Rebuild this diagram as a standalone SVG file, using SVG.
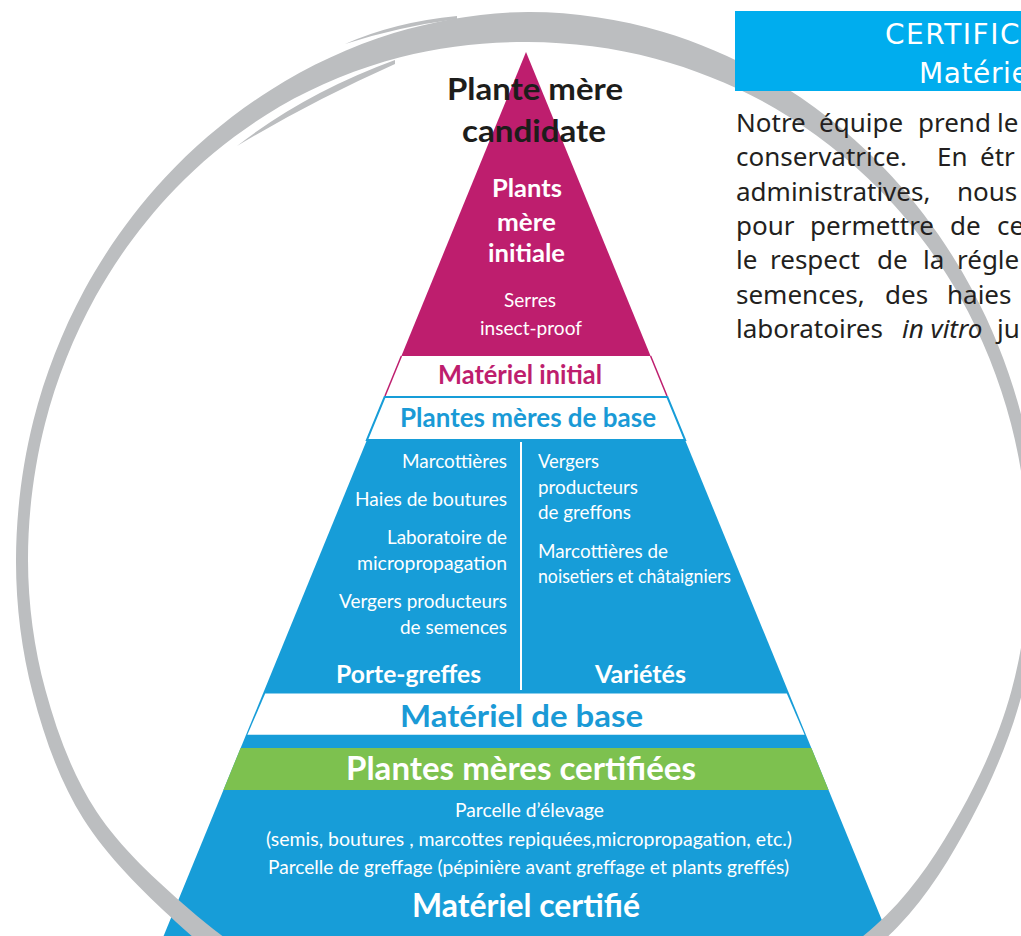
<svg xmlns="http://www.w3.org/2000/svg" width="1021" height="936" viewBox="0 0 1021 936">
<style>
.pt{font-family:Lato,"Noto Sans",sans-serif;}
.b{font-weight:700;}
.w{fill:#ffffff;}
.k{fill:#1d1d1b;}
.mg{fill:#be1e6e;}
.bl{fill:#1a9ad6;}
.par{font-family:"Noto Sans","DejaVu Sans",sans-serif;font-size:26px;fill:#231f20;}
.hd{font-family:"DejaVu Sans","Noto Sans",sans-serif;font-size:28px;fill:#ffffff;}
</style>
<rect width="1021" height="936" fill="#ffffff"/>

<g id="pyramid">
  <g id="node-candidate">
    <polygon points="526,52 401.4,356 650.6,356" fill="#be1e6e"/>
    <text class="pt b k" x="447" y="100" font-size="31" textLength="176" lengthAdjust="spacingAndGlyphs">Plante mère</text>
    <text class="pt b k" x="462" y="142" font-size="31" textLength="144" lengthAdjust="spacingAndGlyphs">candidate</text>
    <text class="pt b w" x="492" y="197" font-size="25" textLength="70" lengthAdjust="spacingAndGlyphs">Plants</text>
    <text class="pt b w" x="497" y="231" font-size="25" textLength="59" lengthAdjust="spacingAndGlyphs">mère</text>
    <text class="pt b w" x="488" y="262" font-size="25" textLength="77" lengthAdjust="spacingAndGlyphs">initiale</text>
    <text class="pt w" x="504" y="307" font-size="20" textLength="52" lengthAdjust="spacingAndGlyphs">Serres</text>
    <text class="pt w" x="480" y="335" font-size="20" textLength="102" lengthAdjust="spacingAndGlyphs">insect-proof</text>
  </g>
  <g id="node-materiel-initial">
    <polygon points="401.4,356 650.6,356 667,396 385,396" fill="#ffffff"/>
    <line x1="401.4" y1="356" x2="385" y2="396" stroke="#be1e6e" stroke-width="1.5"/>
    <line x1="650.6" y1="356" x2="667" y2="396" stroke="#be1e6e" stroke-width="1.5"/>
    <text class="pt b mg" x="438" y="384" font-size="26" textLength="164" lengthAdjust="spacingAndGlyphs">Matériel initial</text>
  </g>
  <g id="node-base">
    <polygon points="366.9,440 685.1,440 888.4,936 163.6,936" fill="#179dd8"/>
    <polygon points="384.6,397 667.4,397 685.1,440 366.9,440" fill="#ffffff" stroke="#179dd8" stroke-width="2"/>
    <text class="pt b bl" x="400" y="427" font-size="26" textLength="256" lengthAdjust="spacingAndGlyphs">Plantes mères de base</text>
    <line x1="521" y1="442" x2="521" y2="690" stroke="#ffffff" stroke-width="2"/>
    <text class="pt w" x="402" y="468" font-size="20" textLength="105" lengthAdjust="spacingAndGlyphs">Marcottières</text>
    <text class="pt w" x="355" y="506" font-size="20" textLength="152" lengthAdjust="spacingAndGlyphs">Haies de boutures</text>
    <text class="pt w" x="387" y="544" font-size="20" textLength="120" lengthAdjust="spacingAndGlyphs">Laboratoire de</text>
    <text class="pt w" x="357" y="570" font-size="20" textLength="150" lengthAdjust="spacingAndGlyphs">micropropagation</text>
    <text class="pt w" x="339" y="608" font-size="20" textLength="168" lengthAdjust="spacingAndGlyphs">Vergers producteurs</text>
    <text class="pt w" x="400" y="634" font-size="20" textLength="107" lengthAdjust="spacingAndGlyphs">de semences</text>
    <text class="pt w" x="538" y="468" font-size="20" textLength="61" lengthAdjust="spacingAndGlyphs">Vergers</text>
    <text class="pt w" x="538" y="494" font-size="20" textLength="100" lengthAdjust="spacingAndGlyphs">producteurs</text>
    <text class="pt w" x="538" y="519" font-size="20" textLength="93" lengthAdjust="spacingAndGlyphs">de greffons</text>
    <text class="pt w" x="538" y="558" font-size="20" textLength="130" lengthAdjust="spacingAndGlyphs">Marcottières de</text>
    <text class="pt w" x="538" y="583" font-size="20" textLength="193" lengthAdjust="spacingAndGlyphs">noisetiers et châtaigniers</text>
    <text class="pt b w" x="336" y="683" font-size="25" textLength="145" lengthAdjust="spacingAndGlyphs">Porte-greffes</text>
    <text class="pt b w" x="595" y="683" font-size="25" textLength="91" lengthAdjust="spacingAndGlyphs">Variétés</text>
  </g>
  <g id="node-materiel-base">
    <polygon points="265.2,693.5 786.8,693.5 804.6,734.8 247.4,734.8" fill="#ffffff"/>
    <text class="pt b bl" x="400" y="727" font-size="31" textLength="243" lengthAdjust="spacingAndGlyphs">Matériel de base</text>
  </g>
  <g id="node-certifiees">
    <polygon points="240.6,748 811.4,748 828.6,790 223.4,790" fill="#7dc14f"/>
    <text class="pt b w" x="346" y="780" font-size="32" textLength="350" lengthAdjust="spacingAndGlyphs">Plantes mères certifiées</text>
  </g>
  <g id="node-certifie">
    <text class="pt w" x="455" y="817" font-size="20" textLength="149" lengthAdjust="spacingAndGlyphs">Parcelle d’élevage</text>
    <text class="pt w" x="266" y="846" font-size="20" textLength="526" lengthAdjust="spacingAndGlyphs">(semis, boutures , marcottes repiquées,micropropagation, etc.)</text>
    <text class="pt w" x="268" y="874" font-size="20" textLength="521" lengthAdjust="spacingAndGlyphs">Parcelle de greffage (pépinière avant greffage et plants greffés)</text>
    <text class="pt b w" x="412" y="917" font-size="32" textLength="228" lengthAdjust="spacingAndGlyphs">Matériel certifié</text>
  </g>
</g>

<g id="ring" fill="#bcbec0">
  <path d="M 284.5,1004.5 C 248.2,980.8 209.5,953 176,922 C 142.5,891.05 107.2,856.9 83.3,818.8 C 59.5,780.8 44.1,736.8 32.9,693.7 C 21.7,650.6 15.9,605.5 16,560 C 16.1,514.5 22,465.5 33.4,420.5 C 44.8,375.6 62.3,330.8 84.2,290.3 C 106.1,249.9 133.9,211.2 164.9,177.8 C 195.9,144.5 232.2,114.3 270.3,90.2 C 308.5,66.1 350.9,46.1 393.8,33.1 C 436.8,20.1 483.2,12.2 528,12 C 572.8,11.8 619.5,19 662.6,31.7 C 705.7,44.4 748.5,64.2 786.8,88.4 C 825.1,112.6 861.3,143.1 892.2,176.7 C 923.1,210.3 950.6,249.4 972.3,290 C 994,330.6 1011.4,375.5 1022.6,420.5 C 1033.8,465.5 1039.6,514.5 1039.5,560 C 1039.4,605.5 1033.4,650.4 1022.1,693.4 C 1010.8,736.5 992.5,779.4 971.8,818.3 C 951.1,857.2 928.7,894.8 897.7,926.7 C 866.7,958.6 825.2,987.3 785.8,1009.9 L 776.3,993.5 C 814.6,972.2 855.6,945.6 886.3,915.3 C 917,885 939.7,849.3 960.6,811.8 C 981.5,774.35 1000.2,732.6 1011.5,690.6 C 1022.8,648.6 1028.6,604.5 1028.5,560 C 1028.4,515.5 1022.4,467.5 1011,423.7 C 999.6,379.9 982,336 960.1,297 C 938.2,258 910.2,220.9 879.4,189.5 C 848.6,158.1 812.6,130.2 775.3,108.4 C 738,86.6 696.6,69.8 655.4,58.7 C 614.2,47.6 570.5,42.2 528,42 C 485.5,41.8 441.6,46.5 400.2,57.3 C 358.8,68.1 317.3,84.8 279.8,106.6 C 242.4,128.5 206.2,156.7 175.5,188.4 C 144.8,220.1 117.2,257.6 95.4,296.8 C 73.7,336 56.2,379.8 45,423.7 C 33.8,467.6 27.9,515.6 28,560 C 28.1,604.4 34.1,648.4 45.5,690.3 C 56.9,732.2 72.4,774.85 96.3,811.3 C 120.2,847.75 155.8,880 189,909 C 222.2,938.03 260.3,963.5 295.5,985.5 Z"/>
  <path d="M 345,44 Q 395,22 457,16 L 457,19 Q 397,27 345,44 Z"/>
  <path d="M 237,146 Q 305,93 395,60 L 395,64 Q 310,102 237,146 Z"/>
</g>

<g id="node-header">
  <rect x="735" y="11" width="300" height="80" fill="#00adee"/>
  <text class="hd" x="885" y="44" letter-spacing="1.5">CERTIFIC</text>
  <text class="hd" x="919" y="83" letter-spacing="0.6">Matérie</text>
</g>

<g id="node-paragraph" class="par">
  <text y="131.5"><tspan x="736">Notre</tspan><tspan x="819">équipe</tspan><tspan x="918">prend</tspan><tspan x="997">le</tspan></text>
  <text y="166"><tspan x="736">conservatrice.</tspan><tspan x="937">En</tspan><tspan x="980">étr</tspan></text>
  <text y="200.5"><tspan x="736">administratives,</tspan><tspan x="957">nous</tspan></text>
  <text y="235"><tspan x="736">pour</tspan><tspan x="810">permettre</tspan><tspan x="950">de</tspan><tspan x="997">ce</tspan></text>
  <text y="269"><tspan x="736">le</tspan><tspan x="770">respect</tspan><tspan x="877">de</tspan><tspan x="923">la</tspan><tspan x="957">régle</tspan></text>
  <text y="303.5"><tspan x="736">semences,</tspan><tspan x="885">des</tspan><tspan x="947">haies</tspan></text>
  <text y="338"><tspan x="736">laboratoires</tspan><tspan x="902" font-style="italic">in vitro</tspan><tspan x="997">ju</tspan></text>
</g>
</svg>
